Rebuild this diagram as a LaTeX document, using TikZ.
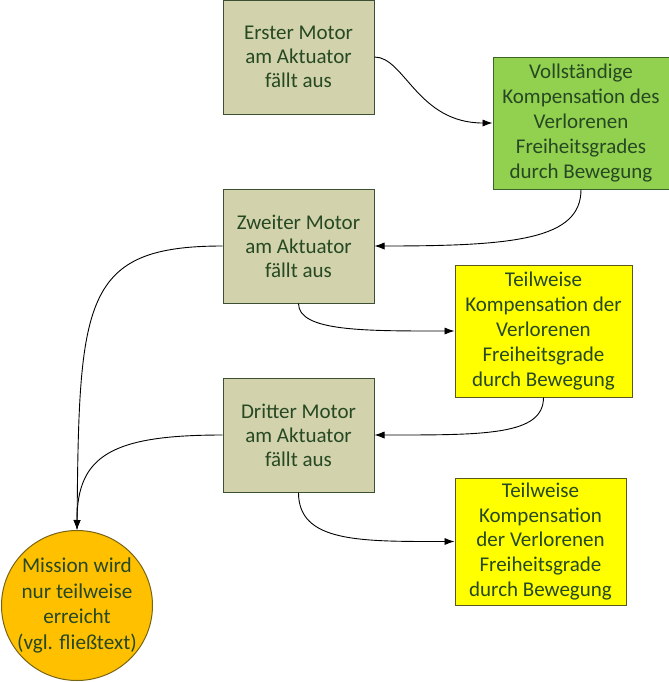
\documentclass[tikz,border=0pt]{standalone}
\usepackage{fontspec}
\setmainfont{Carlito}
\usetikzlibrary{shapes.geometric,arrows.meta}
\definecolor{motorfill}{RGB}{210,211,172}
\definecolor{motorline}{RGB}{60,80,50}
\definecolor{fullfill}{RGB}{146,208,80}
\definecolor{fullline}{RGB}{60,100,40}
\definecolor{partfill}{RGB}{255,255,0}
\definecolor{partline}{RGB}{90,90,30}
\definecolor{missfill}{RGB}{255,192,0}
\definecolor{missline}{RGB}{120,100,20}
\definecolor{schrift}{RGB}{38,72,34}
\begin{document}
\begin{tikzpicture}[x=0.5pt,y=-0.5pt,
  every node/.style={font=\fontsize{10.5}{12}\selectfont,text=schrift,align=center,inner sep=0pt},
  motor/.style={draw=motorline,fill=motorfill,line width=0.5pt,minimum width=75.5pt,minimum height=57pt},
  voll/.style={draw=fullline,fill=fullfill,line width=0.5pt,minimum width=88pt,minimum height=66pt,
    font=\fontsize{10.5}{12.4}\selectfont},
  teil/.style={draw=partline,fill=partfill,line width=0.5pt,font=\fontsize{10.5}{12.4}\selectfont},
  mission/.style={ellipse,draw=missline,fill=missfill,line width=0.5pt,minimum width=75.5pt,minimum height=75pt,
    inner xsep=-3.5pt,font=\fontsize{10.6}{12.8}\selectfont},
  pfeil/.style={draw=black,line width=0.45pt,-{Latex[length=5pt,width=3.6pt]}}]

\useasboundingbox (0,0) rectangle (669,682);

\node[motor] (erster) at (298.5,57) {Erster Motor\\am Aktuator\\fällt aus};
\node[voll] (voll) at (581,123) {Vollständige\\Kompensation des\\Verlorenen\\Freiheitsgrades\\durch Bewegung};
\node[motor] (zweiter) at (298.5,246) {Zweiter Motor\\am Aktuator\\fällt aus};
\node[teil,minimum width=88.5pt,minimum height=66pt] (teil1) at (543.5,331) {Teilweise\\Kompensation der\\Verlorenen\\Freiheitsgrade\\durch Bewegung};
\node[motor] (dritter) at (298.5,435) {Dritter Motor\\am Aktuator\\fällt aus};
\node[teil,minimum width=85.5pt,minimum height=63.5pt] (teil2) at (540.5,541.5) {Teilweise\\Kompensation\\der Verlorenen\\Freiheitsgrade\\durch Bewegung};
\node[mission] (mission) at (77,605.5) {Mission wird\\nur teilweise\\erreicht\\(vgl. fließtext)};

\draw[pfeil] (erster.east) .. controls +(30,0) and +(-75,0) .. (voll.west);
\draw[pfeil] (voll.south) .. controls +(0,50) and +(140,0) .. (zweiter.east);
\draw[pfeil] (zweiter.south) .. controls +(0,28) and +(-90,0) .. (teil1.west);
\draw[pfeil] (teil1.south) .. controls +(0,38) and +(110,0) .. (dritter.east);
\draw[pfeil] (dritter.south) .. controls +(0,50) and +(-95,0) .. (teil2.west);
\draw[pfeil] (zweiter.west) .. controls +(-140,0) and +(2,-230) .. (mission.north);
\draw[pfeil] (dritter.west) .. controls +(-110,0) and +(0,-75) .. (mission.north);
\end{tikzpicture}
\end{document}
